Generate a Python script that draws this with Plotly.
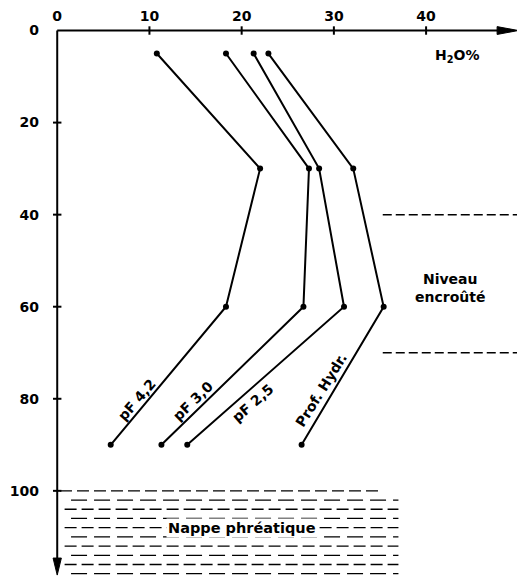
import plotly.graph_objects as go

depth = [5, 30, 60, 90]
pf42 = [10.8, 22.0, 18.3, 5.8]
pf30 = [18.3, 27.3, 26.7, 11.3]
pf25 = [21.3, 28.4, 31.1, 14.1]
prof_hydr = [22.9, 32.1, 35.4, 26.5]

x_ticks = [0, 10, 20, 30, 40]
y_ticks = [0, 20, 40, 60, 80, 100]

crust_levels = [40, 70]
nappe_depths = [100, 102, 104, 106, 108, 110, 112, 114, 116, 118]

X_MAX = 50
Y_MAX = 118.3
FONT = "DejaVu Sans"

fig = go.Figure()

# axis lines with arrowheads
fig.add_trace(go.Scatter(x=[0, X_MAX - 2], y=[0, 0], mode="lines",
                         line=dict(color="black", width=2),
                         showlegend=False, hoverinfo="skip"))
fig.add_trace(go.Scatter(x=[0, 0], y=[0, Y_MAX - 3], mode="lines",
                         line=dict(color="black", width=2),
                         showlegend=False, hoverinfo="skip"))
fig.add_trace(go.Scatter(x=[X_MAX, X_MAX - 2.3, X_MAX - 2.3, X_MAX], y=[0, -0.85, 0.85, 0],
                         mode="lines", fill="toself", fillcolor="black",
                         line=dict(color="black", width=1),
                         showlegend=False, hoverinfo="skip"))
fig.add_trace(go.Scatter(x=[0, -0.45, 0.45, 0], y=[Y_MAX, Y_MAX - 3.7, Y_MAX - 3.7, Y_MAX],
                         mode="lines", fill="toself", fillcolor="black",
                         line=dict(color="black", width=1),
                         showlegend=False, hoverinfo="skip"))

series = [
    ("pF 4,2", pf42, 8.6, 80.2, -49),
    ("pF 3,0", pf30, 14.7, 80.4, -44),
    ("pF 2,5", pf25, 21.2, 80.9, -41),
    ("Prof. Hydr.", prof_hydr, 28.6, 78.0, -58),
]
for name, vals, lx, ly, ang in series:
    fig.add_trace(go.Scatter(
        x=vals, y=depth, mode="lines+markers", name=name,
        line=dict(color="black", width=2),
        marker=dict(color="black", size=6),
        showlegend=False, hoverinfo="skip"))
    fig.add_annotation(x=lx, y=ly, text="<b>%s</b>" % name, showarrow=False,
                       textangle=ang, font=dict(family=FONT, size=14, color="black"))

# crust level dashed lines
for lv in crust_levels:
    fig.add_trace(go.Scatter(x=[35.3, X_MAX], y=[lv, lv], mode="lines",
                             line=dict(color="black", width=1.5, dash="9px,4px"),
                             showlegend=False, hoverinfo="skip"))

# water table
for i, d in enumerate(nappe_depths):
    x0 = 0.3 if i == 0 else (1.5 if i % 2 else 0.8)
    x1 = 35.2 if i == 0 else 37.0
    fig.add_trace(go.Scatter(x=[x0, x1], y=[d, d], mode="lines",
                             line=dict(color="black", width=1.3,
                                       dash="12px,5px" if i % 2 == 0 else "16px,7px"),
                             showlegend=False, hoverinfo="skip"))

fig.add_annotation(x=20, y=108, text="<b>Nappe phréatique</b>", showarrow=False,
                   bgcolor="white", borderpad=1,
                   font=dict(family=FONT, size=14.5, color="black"))
fig.add_annotation(x=42.6, y=56, text="<b>Niveau<br>encroûté</b>", showarrow=False,
                   font=dict(family=FONT, size=14, color="black"))
fig.add_annotation(x=43.3, y=5.5, text="<b>H<sub>2</sub>O%</b>", showarrow=False,
                   font=dict(family=FONT, size=14, color="black"))

fig.update_xaxes(range=[-1, 50.4], side="top", tickvals=x_ticks,
                 ticktext=["<b>%d</b>" % v for v in x_ticks],
                 ticks="", showgrid=False, zeroline=False, showline=False, automargin=False,
                 ticklabelstandoff=0,
                 tickfont=dict(family=FONT, size=14, color="black"))
fig.update_yaxes(range=[118.5, -1.2], tickvals=y_ticks,
                 ticktext=["<b>%d</b>" % v for v in y_ticks],
                 ticks="", showgrid=False, zeroline=False, showline=False, automargin=False,
                 ticklabelstandoff=8,
                 tickfont=dict(family=FONT, size=14, color="black"))

# small tick nubs on the axes
fig.add_trace(go.Scatter(x=x_ticks[1:], y=[0] * (len(x_ticks) - 1), mode="markers",
                         marker=dict(symbol="line-ns", size=6, line=dict(width=2, color="black")),
                         showlegend=False, hoverinfo="skip"))
fig.add_trace(go.Scatter(x=[0] * (len(y_ticks) - 1), y=y_ticks[1:], mode="markers",
                         marker=dict(symbol="line-ew", size=6, line=dict(width=2, color="black")),
                         showlegend=False, hoverinfo="skip"))

fig.update_layout(width=517, height=569, plot_bgcolor="white", paper_bgcolor="white",
                  margin=dict(l=40, r=3, t=17, b=1, pad=0), showlegend=False)

fig.write_html("out.html")
